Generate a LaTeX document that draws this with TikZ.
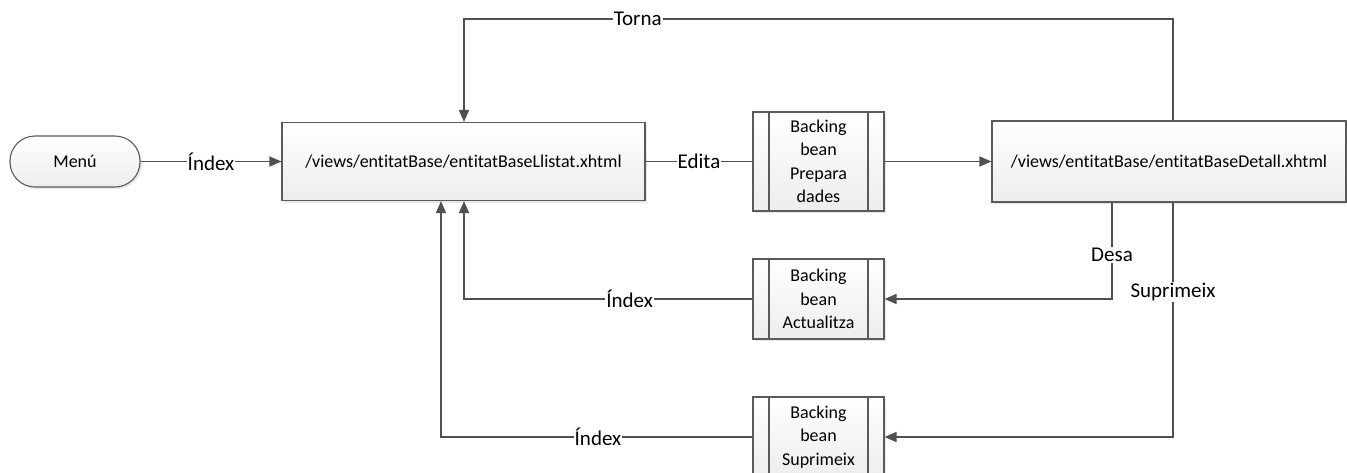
\documentclass[tikz,border=0pt]{standalone}
\usepackage{fontspec}
\setmainfont[Ligatures=NoCommon]{Carlito}
\usetikzlibrary{arrows.meta,shadows,calc}
\definecolor{ln}{HTML}{505050}
\definecolor{bd}{HTML}{5A5A5A}
\tikzset{
  boxbase/.style={draw=bd, line width=1.1pt, top color=white, bottom color=gray!14,
    drop shadow={opacity=0.18, shadow xshift=2pt, shadow yshift=-2pt},
    font=\fontsize{18}{23.5}\selectfont, align=center, inner sep=0pt},
  pagebox/.style={boxbase},
  procbox/.style={boxbase, minimum width=131pt,
    path picture={
      \draw[bd, line width=1.1pt] ([xshift=16pt]path picture bounding box.north west) -- ([xshift=16pt]path picture bounding box.south west);
      \draw[bd, line width=1.1pt] ([xshift=-16pt]path picture bounding box.north east) -- ([xshift=-16pt]path picture bounding box.south east);
    }},
  termbox/.style={boxbase, rounded corners=25pt, minimum width=130pt, minimum height=51pt},
  conn/.style={draw=ln, line width=1.6pt},
  arr/.style={conn, -{Triangle[length=12pt,width=10pt]}},
  lbl/.style={fill=white, inner sep=1pt, text=black, font=\fontsize{21}{24}\selectfont}
}
\begin{document}
\begin{tikzpicture}[x=1pt,y=-1pt]
\useasboundingbox (0,0) rectangle (1347,472);
\node[termbox] (menu) at (75,161.5) {Menú};
\node[pagebox, minimum width=363pt, minimum height=78pt] (llistat) at (463.5,161.5) {/views/entitatBase/entitatBaseLlistat.xhtml};
\node[procbox, minimum height=99pt] (prep) at (818.5,161.5) {Backing\\bean\\Prepara\\dades};
\node[pagebox, minimum width=354pt, minimum height=81pt] (detall) at (1169,161.5) {/views/entitatBase/entitatBaseDetall.xhtml};
\node[procbox, minimum height=80pt] (act) at (818.5,299) {Backing\\bean\\Actualitza};
\node[procbox, minimum height=80pt] (sup) at (818.5,437) {Backing\\bean\\Suprimeix};

\coordinate (t1) at (1173,19);
\coordinate (t2) at (464,19);
\coordinate (a1) at (464,299);
\coordinate (s1) at (441,437);
\coordinate (d1) at (1112,0);
\coordinate (e1) at (1173,0);

\draw[arr] (menu) -- node[lbl]{Índex} (llistat);
\draw[conn] (llistat) -- node[lbl]{Edita} (prep);
\draw[arr] (prep) -- (detall);
\draw[arr] (detall.north -| t1) -- (t1) -- node[lbl, pos=0.755]{Torna} (t2) -- (llistat.north -| t2);
\draw[arr] (detall.south -| d1) |- node[lbl, pos=0.273]{Desa} (act.east);
\draw[arr] (detall.south -| e1) |- node[lbl, pos=0.19]{Suprimeix} (sup.east);
\draw[arr] (act.west) -| node[lbl, pos=0.213]{Índex} (llistat.south -| a1);
\draw[arr] (sup.west) -| node[lbl, pos=0.248]{Índex} (llistat.south -| s1);
\end{tikzpicture}
\end{document}
